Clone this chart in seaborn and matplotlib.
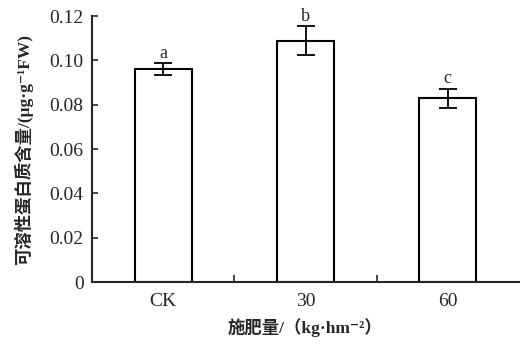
import numpy as np
import pandas as pd
import matplotlib
matplotlib.use("Agg")
import matplotlib.pyplot as plt
import seaborn as sns

# data
groups = ["CK", "30", "60"]
means = [0.0961, 0.1088, 0.0830]
errs = [0.0025, 0.0065, 0.0043]
letters = ["a", "b", "c"]

sns.set_style("ticks")
plt.rcParams['font.family'] = ['Liberation Serif', 'Noto Sans CJK SC', 'DejaVu Sans']

df = pd.DataFrame({"group": groups, "mean": means})

fig = plt.figure(figsize=(5.2, 3.57), dpi=100)
ax = fig.add_axes([0.177, 0.21, 0.821, 0.745])

sns.barplot(data=df, x="group", y="mean", ax=ax, color="white",
            edgecolor="black", linewidth=1.5, width=0.4, errorbar=None)
ax.errorbar(range(len(groups)), means, yerr=errs, fmt="none",
            ecolor="black", elinewidth=1.3, capsize=6.5, capthick=1.3)
for i, (m, e, t) in enumerate(zip(means, errs, letters)):
    ax.text(i, m + e + 0.0005, t, ha="center", va="bottom", fontsize=13)

ax.set_xlim(-0.5, 2.5)
ax.set_ylim(0, 0.12)
ax.set_yticks(np.arange(0, 0.121, 0.02))
ax.set_yticklabels(["0", "0.02", "0.04", "0.06", "0.08", "0.10", "0.12"])
ax.set_xticks([0, 1, 2])
ax.set_xticklabels(groups)
ax.set_xticks([0.5, 1.5], minor=True)
ax.tick_params(axis="x", which="major", length=0, labelsize=14, pad=8)
ax.tick_params(axis="x", which="minor", direction="in", length=5, width=1.2)
ax.tick_params(axis="y", direction="in", length=4, width=1.2, labelsize=14, pad=6)
for s in ["top", "right"]:
    ax.spines[s].set_visible(False)
for s in ["left", "bottom"]:
    ax.spines[s].set_linewidth(1.5)

ax.set_ylabel("可溶性蛋白质含量/(μg·g⁻¹FW)", fontsize=12.5, labelpad=12,
              fontweight="semibold")
ax.set_xlabel("施肥量/（kg·hm⁻²）", fontsize=12.5, labelpad=6,
              fontweight="semibold")

fig.savefig("out.png", dpi=100)
